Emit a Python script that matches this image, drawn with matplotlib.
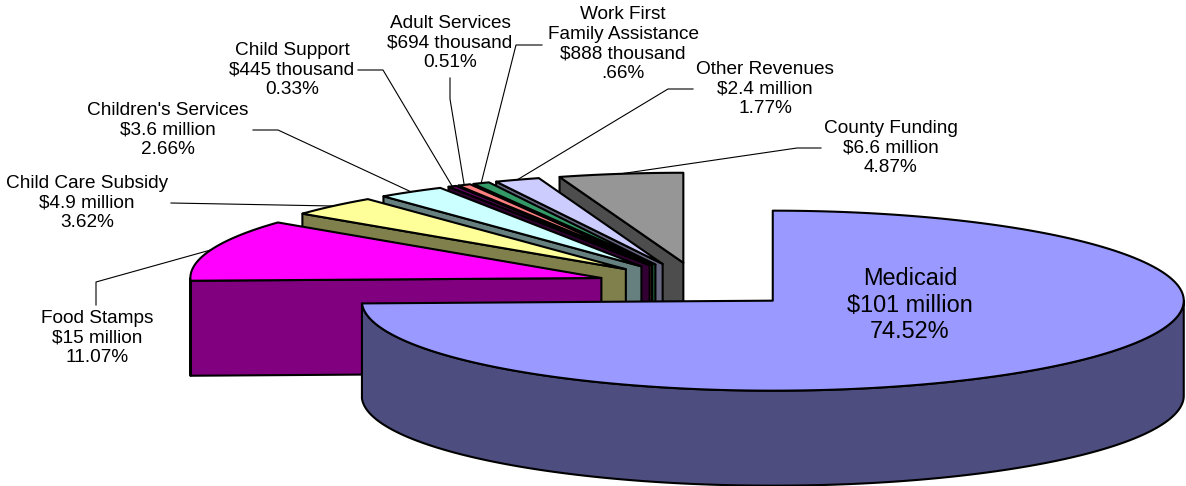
import numpy as np
import matplotlib
matplotlib.use("Agg")
import matplotlib.pyplot as plt
from matplotlib.patches import Polygon

plt.rcParams['font.family'] = ['Liberation Sans', 'DejaVu Sans']

# ---- data (clockwise from 12 o'clock) ----
categories = ["Medicaid", "Food Stamps", "Child Care Subsidy", "Children's Services",
              "Child Support", "Adult Services", "Work First\nFamily Assistance",
              "Other Revenues", "County Funding"]
amounts = ["$101 million", "$15 million", "$4.9 million", "$3.6 million", "$445 thousand",
           "$694 thousand", "$888 thousand", "$2.4 million", "$6.6 million"]
percents = [74.52, 11.07, 3.62, 2.66, 0.33, 0.51, 0.66, 1.77, 4.87]
percent_labels = ["74.52%", "11.07%", "3.62%", "2.66%", "0.33%", "0.51%", ".66%", "1.77%", "4.87%"]
top_colors = ["#9999FF", "#FF00FF", "#FFFF99", "#CCFFFF", "#660066", "#FF8080", "#339966", "#CCCCFF", "#969696"]
side_colors = ["#4D4D80", "#800080", "#80804D", "#668080", "#330033", "#804040", "#1A4D33", "#666680", "#4D4D4D"]

# ---- projection of the 3-D pie, in pixels ----
CX, CY = 699.0, 285.0
RX, RY = 411.0, 90.0
DEPTH = 95.0
EXPLODE = 0.25

label_xy = [(910, 305), (97, 338), (87, 203), (168, 130), (292, 70), (450, 43), (623, 44), (765, 89), (891, 148)]
elbows = [None, [(96, 305), (96, 282)], [(171, 203)], [(253, 130), (278, 130)], [(358, 70), (383, 70)],
          [(450, 78), (450, 99)], [(542, 45), (516, 45)], [(693, 89), (668, 89)], [(821, 148), (797, 148)]]

fig = plt.figure(figsize=(11.86, 4.86), dpi=100)
ax = fig.add_axes([0, 0, 1, 1])
ax.set_xlim(0, 1186)
ax.set_ylim(486, 0)
ax.axis("off")

fractions = np.array(percents) / sum(percents)
edges = np.concatenate([[0], np.cumsum(fractions)]) * 2 * np.pi


def pt(center, a, r=1.0):
    return np.array([center[0] + r * RX * np.sin(a), center[1] - r * RY * np.cos(a)])


def arc(center, a0, a1):
    t = np.linspace(a0, a1, max(3, int(abs(a1 - a0) * 200)))
    return np.column_stack([center[0] + RX * np.sin(t), center[1] - RY * np.cos(t)])


def poly(points, face, z):
    ax.add_patch(Polygon(points, closed=True, facecolor=face, edgecolor="black",
                         linewidth=1.5, joinstyle="round", zorder=z))


down = np.array([0, DEPTH])
n = len(percents)
anchors = {}
# paint back to front: the last slice first, Medicaid on top
for z, i in enumerate(range(n - 1, -1, -1)):
    a0, a1 = edges[i], edges[i + 1]
    mid = (a0 + a1) / 2
    c = np.array([CX + EXPLODE * RX * np.sin(mid), CY - EXPLODE * RY * np.cos(mid)])
    anchors[i] = pt(c, mid)
    base = 10 + z * 3
    # cut face on the starting radius (only faces the viewer for left-hand slices)
    if np.sin(a0) < 0:
        e = pt(c, a0)
        poly(np.array([c, e, e + down, c + down]), side_colors[i], base)
    # outer rim on the front half
    f0, f1 = max(a0, np.pi / 2), min(a1, 1.5 * np.pi)
    if f1 > f0:
        rim = arc(c, f0, f1)
        poly(np.vstack([rim, rim[::-1] + down]), side_colors[i], base + 1)
    poly(np.vstack([[c], arc(c, a0, a1)]), top_colors[i], base + 2)

for i in range(1, n):
    pts = np.array(list(elbows[i]) + [tuple(anchors[i])])
    ax.plot(pts[:, 0], pts[:, 1], color="black", lw=0.8, zorder=60)

for i in range(n):
    txt = f"{categories[i]}\n{amounts[i]}\n{percent_labels[i]}"
    x, y = label_xy[i]
    ax.text(x, y, txt, ha="center", va="center", multialignment="center", color="black",
            fontsize=16.9 if i == 0 else 13.7, linespacing=1.19, zorder=70)

fig.savefig("out.png", dpi=100, facecolor="white")
